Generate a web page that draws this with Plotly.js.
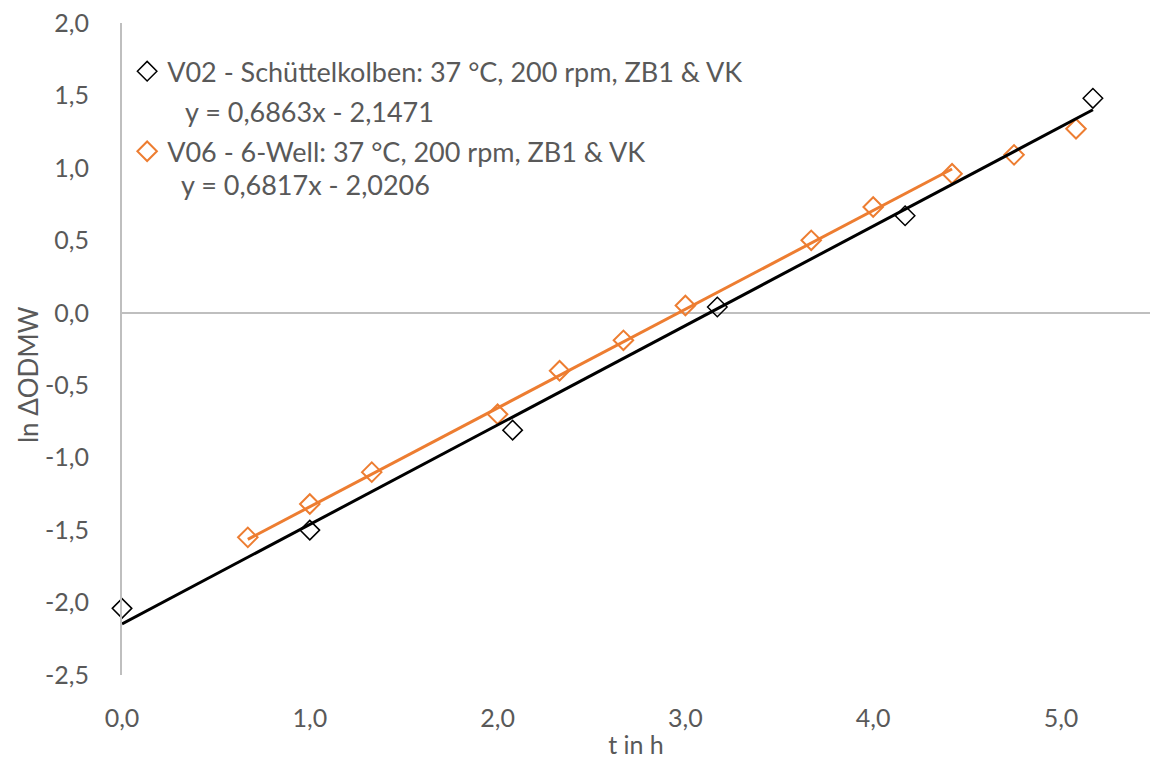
<!DOCTYPE html>
<html>
<head>
<meta charset="utf-8">
<script src="https://cdn.plot.ly/plotly-3.0.1.min.js"></script>
<style>
  html, body { margin: 0; padding: 0; background: #ffffff; }
  #chart { width: 1150px; height: 760px; }
</style>
</head>
<body>
<div id="chart"></div>
<script>
// Growth curves: ln ΔODMW over time for two cultivation setups
const v02Name = 'V02 - Schüttelkolben: 37 °C, 200 rpm, ZB1 & VK';
const v02T = [0, 1.0, 2.08, 3.17, 4.17, 5.17];
const v02Y = [-2.04, -1.50, -0.81, 0.04, 0.67, 1.48];

const v06Name = 'V06 - 6-Well: 37 °C, 200 rpm, ZB1 & VK';
const v06T = [0.67, 1.0, 1.33, 2.0, 2.33, 2.67, 3.0, 3.67, 4.0, 4.42, 4.75, 5.08];
const v06Y = [-1.55, -1.32, -1.10, -0.70, -0.40, -0.19, 0.05, 0.50, 0.73, 0.96, 1.09, 1.27];

// Linear trendlines (slope, intercept) and the time span each one covers
const trendSlope = [0.6863, 0.6817];
const trendIntercept = [-2.1471, -2.0206];
const trendSpan = [[0, 5.17], [0.67, 4.42]];
const trendLabel = ['y = 0,6863x - 2,1471', 'y = 0,6817x - 2,0206'];

// Axis ticks (German decimal comma, plain hyphen as minus sign)
const yTickVals = [-2.5, -2.0, -1.5, -1.0, -0.5, 0.0, 0.5, 1.0, 1.5, 2.0];
const yTickText = ['-2,5', '-2,0', '-1,5', '-1,0', '-0,5', '0,0', '0,5', '1,0', '1,5', '2,0'];
const xTickVals = [0, 1, 2, 3, 4, 5];
const xTickText = ['0,0', '1,0', '2,0', '3,0', '4,0', '5,0'];

const black = '#000000';
const orange = '#ED7D31';
const textGrey = '#595959';
const axisGrey = '#BFBFBF';
const font = 'Lato, "Open Sans", sans-serif';
const tickSize = 25;
const labelSize = 27;

function trendTrace(i, color) {
  const xs = trendSpan[i];
  return {
    x: xs,
    y: xs.map(t => trendSlope[i] * t + trendIntercept[i]),
    type: 'scatter',
    mode: 'lines',
    line: { color: color, width: 3 },
    showlegend: false,
    hoverinfo: 'skip',
    cliponaxis: false
  };
}

const traces = [
  {
    x: v02T, y: v02Y, name: v02Name, type: 'scatter', mode: 'markers',
    legendgroup: 'g1',
    marker: { symbol: 'diamond-open', size: 15, color: black, line: { color: black, width: 1.5 } },
    cliponaxis: false
  },
  {
    x: v06T, y: v06Y, name: v06Name, type: 'scatter', mode: 'markers',
    legendgroup: 'g2',
    marker: { symbol: 'diamond-open', size: 15, color: orange, line: { color: orange, width: 2 } },
    cliponaxis: false
  },
  trendTrace(0, black),
  trendTrace(1, orange)
];

const layout = {
  width: 1150,
  height: 760,
  margin: { l: 122, r: 0, t: 23, b: 85 },
  paper_bgcolor: '#ffffff',
  plot_bgcolor: '#ffffff',
  font: { family: font, size: tickSize, color: textGrey },
  showlegend: true,
  legend: {
    x: 0.005, y: 0.963, xanchor: 'left', yanchor: 'top',
    bgcolor: 'rgba(0,0,0,0)',
    traceorder: 'grouped',
    tracegroupgap: 42,
    itemwidth: 30,
    font: { family: font, size: labelSize, color: textGrey }
  },
  xaxis: {
    range: [0, 5.474],
    tickmode: 'array',
    tickvals: xTickVals,
    ticktext: xTickText,
    showgrid: false,
    zeroline: false,
    showline: false,
    ticks: '',
    ticklabelstandoff: 26,
    tickfont: { family: font, size: tickSize, color: textGrey },
    title: { text: 't in h', font: { family: font, size: tickSize, color: textGrey }, standoff: 5 },
    fixedrange: true
  },
  yaxis: {
    range: [-2.5, 2.0],
    tickmode: 'array',
    tickvals: yTickVals,
    ticktext: yTickText,
    showgrid: false,
    showline: true,
    linecolor: axisGrey,
    linewidth: 2,
    zeroline: true,
    zerolinecolor: axisGrey,
    zerolinewidth: 2,
    ticks: '',
    ticklabelstandoff: 26,
    tickfont: { family: font, size: tickSize, color: textGrey },
    fixedrange: true
  },
  annotations: [
    {
      text: 'ln ΔODMW', textangle: -90,
      xref: 'paper', yref: 'paper', x: -0.0914, y: 0.46,
      xanchor: 'center', yanchor: 'middle', showarrow: false,
      font: { family: font, size: 26, color: textGrey }
    },
    {
      text: trendLabel[0],
      xref: 'paper', yref: 'paper', x: 0.059, y: 0.865,
      xanchor: 'left', yanchor: 'middle', showarrow: false,
      font: { family: font, size: labelSize, color: textGrey }
    },
    {
      text: trendLabel[1],
      xref: 'paper', yref: 'paper', x: 0.055, y: 0.752,
      xanchor: 'left', yanchor: 'middle', showarrow: false,
      font: { family: font, size: labelSize, color: textGrey }
    }
  ]
};

Plotly.newPlot('chart', traces, layout, { displayModeBar: false, staticPlot: true });
</script>
</body>
</html>
